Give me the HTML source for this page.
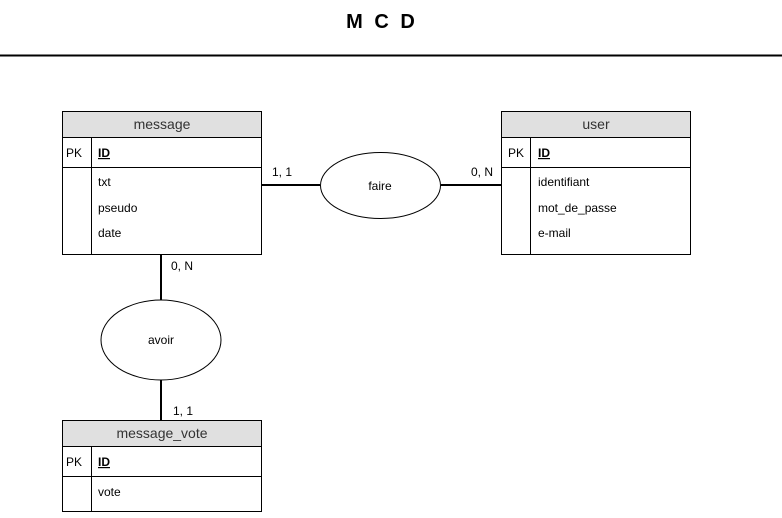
<!DOCTYPE html>
<html><head><style>body{margin:0;background:#fff}</style></head><body>
<svg width="782" height="513" xmlns="http://www.w3.org/2000/svg" font-family="Liberation Sans, Arial, sans-serif">
<rect width="782" height="513" fill="#fff"/>
<text x="382" y="28" font-size="20" font-weight="bold" text-anchor="middle" letter-spacing="3">M C D</text>
<line x1="0" y1="55.5" x2="782" y2="55.5" stroke="#000" stroke-width="2"/>
<g stroke="#000" stroke-width="2">
<line x1="262" y1="185" x2="320" y2="185"/>
<line x1="441" y1="185" x2="501" y2="185"/>
<line x1="161" y1="255" x2="161" y2="300"/>
<line x1="161" y1="380" x2="161" y2="420"/>
</g>
<g stroke="#000" stroke-width="1" fill="#fff">
<ellipse cx="380.5" cy="185.5" rx="60" ry="33"/>
<ellipse cx="161" cy="340" rx="60" ry="40"/>
</g>
<g font-size="12" fill="#000">
<text x="380" y="190" text-anchor="middle">faire</text>
<text x="161" y="344" text-anchor="middle">avoir</text>
<text x="272" y="176">1, 1</text>
<text x="471" y="176">0, N</text>
<text x="171" y="270">0, N</text>
<text x="173" y="415">1, 1</text>
</g>
<g stroke="#000" stroke-width="1">
<rect x="62.5" y="111.5" width="199" height="143" fill="#fff"/>
<rect x="62.5" y="111.5" width="199" height="26" fill="#e0e0e0"/>
<line x1="62" y1="167.5" x2="262" y2="167.5"/>
<line x1="91.5" y1="137" x2="91.5" y2="255"/>
<rect x="501.5" y="111.5" width="189" height="143" fill="#fff"/>
<rect x="501.5" y="111.5" width="189" height="26" fill="#e0e0e0"/>
<line x1="501" y1="167.5" x2="691" y2="167.5"/>
<line x1="530.5" y1="137" x2="530.5" y2="255"/>
<rect x="62.5" y="420.5" width="199" height="91" fill="#fff"/>
<rect x="62.5" y="420.5" width="199" height="26" fill="#e0e0e0"/>
<line x1="62" y1="476.5" x2="262" y2="476.5"/>
<line x1="91.5" y1="446" x2="91.5" y2="512"/>
</g>
<g font-size="14" fill="#333" text-anchor="middle">
<text x="162" y="129">message</text>
<text x="596" y="129">user</text>
<text x="162" y="438">message_vote</text>
</g>
<g font-size="12" fill="#000">
<text x="66" y="157">PK</text>
<text x="98" y="157" font-weight="bold" text-decoration="underline">ID</text>
<text x="98" y="186">txt</text>
<text x="98" y="212">pseudo</text>
<text x="98" y="237">date</text>
<text x="508" y="157">PK</text>
<text x="538" y="157" font-weight="bold" text-decoration="underline">ID</text>
<text x="538" y="186">identifiant</text>
<text x="538" y="212">mot_de_passe</text>
<text x="538" y="237">e-mail</text>
<text x="66" y="466">PK</text>
<text x="98" y="466" font-weight="bold" text-decoration="underline">ID</text>
<text x="98" y="496">vote</text>
</g>
</svg>
</body></html>
